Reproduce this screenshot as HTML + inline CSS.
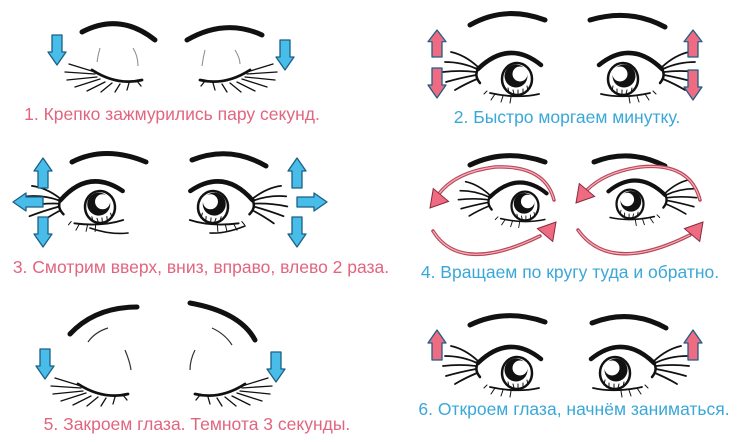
<!DOCTYPE html>
<html><head><meta charset="utf-8"><style>
html,body{margin:0;padding:0;background:#fff;width:750px;height:442px;overflow:hidden}
svg{display:block}
.pk{fill:#e2657f;font-family:"Liberation Sans",sans-serif;font-size:17.5px}
.bl{fill:#3aa7d9;font-family:"Liberation Sans",sans-serif;font-size:17.5px}
</style></head><body>
<svg width="750" height="442" viewBox="0 0 750 442" xmlns="http://www.w3.org/2000/svg">
<defs>
<path id="ad" d="M-5,0 H5 V17 H9 L0,30 L-9,17 H-5 Z" stroke="#1d5f85" stroke-width="1.3" stroke-linejoin="round"/>
<g id="eye" fill="none" stroke="#111" stroke-linecap="round">
 <path d="M-39,-10 Q-8,-40 24,-14" stroke-width="4.5"/>
 <path d="M-39,-10 Q-43,-3 -37,4" stroke-width="2.5"/>
 <path d="M-39,-12 Q-52,-24 -66,-27 M-40,-10 Q-55,-17 -72,-17 M-41,-7 Q-57,-9 -74,-7 M-41,-4 Q-57,-1 -71,3 M-40,0 Q-52,5 -62,11" stroke-width="1.8"/>
 <ellipse cx="0" cy="0" rx="15" ry="16" fill="#fff" stroke-width="2.5"/>
 <path d="M-9,9 L-8,14 M-4,11 L-3,15 M1,11 L1,16 M6,10 L6,15 M10,7 L11,12" stroke-width="1"/>
 <circle cx="-1" cy="-3" r="11.5" fill="#111" stroke="none"/>
 <circle cx="3" cy="-5" r="7.5" fill="#fff" stroke="none"/>
 <path d="M-27,14 Q0,20 22,15" stroke-width="1.8"/>
 <path d="M-22,15 L-26,21 M-14,17 L-16,23 M-6,18 L-7,24 M-30,12 L-33,15" stroke-width="1"/>
</g>
<g id="closed" fill="none" stroke="#111" stroke-linecap="round">
 <path d="M-25,-4 Q0,12 25,6" stroke-width="2.8"/>
 <path d="M-22,-2 L-48,-10 M-22,0 L-52,-2 M-20,3 L-50,6 M-17,5 L-42,13 M-12,8 L-30,17 M-5,9 L-16,18 M3,10 L-2,18 M12,9 L10,16 M20,7 L24,12" stroke-width="1.3"/>
</g>
<path id="rh" d="M0,0 L-10,-17 L10,-17 Z" fill="#ef6b81" stroke="#8a2a3a" stroke-width="1"/>
</defs>

<!-- Panel 1 -->
<path d="M82,32 Q120,12 155,40" stroke="#111" stroke-width="5" fill="none" stroke-linecap="round"/>
<path d="M187,40 Q225,18 262,35" stroke="#111" stroke-width="5" fill="none" stroke-linecap="round"/>
<g fill="none" stroke="#888" stroke-width="1">
<path d="M100,48 Q98,55 97,62"/><path d="M133,48 Q138,56 138,66"/>
<path d="M205,50 Q203,58 202,66"/><path d="M235,50 Q240,58 240,64"/>
</g>
<use href="#closed" transform="translate(117,74)"/>
<use href="#closed" transform="translate(225,74) scale(-1,1)"/>
<use href="#ad" fill="#48bde9" transform="translate(57,35)"/>
<use href="#ad" fill="#48bde9" transform="translate(285,40)"/>
<text class="pk" x="172" y="120" text-anchor="middle">1. Крепко зажмурились пару секунд.</text>

<!-- Panel 2 -->
<path d="M470,25 Q505,5 545,20" stroke="#111" stroke-width="5" fill="none" stroke-linecap="round"/>
<path d="M590,20 Q630,8 665,27" stroke="#111" stroke-width="5" fill="none" stroke-linecap="round"/>
<use href="#eye" transform="translate(517,79)"/>
<use href="#eye" transform="translate(623,79) scale(-1,1)"/>
<use href="#ad" fill="#ef6b81" transform="translate(437,57) scale(1,-0.9)"/>
<use href="#ad" fill="#ef6b81" transform="translate(437,68)"/>
<use href="#ad" fill="#ef6b81" transform="translate(693,57) scale(1,-0.9)"/>
<use href="#ad" fill="#ef6b81" transform="translate(693,70)"/>
<text class="bl" x="567" y="123" text-anchor="middle">2. Быстро моргаем минутку.</text>

<!-- Panel 3 -->
<path d="M72,162 Q105,145 146,162" stroke="#111" stroke-width="5" fill="none" stroke-linecap="round"/>
<path d="M192,160 Q230,145 266,166" stroke="#111" stroke-width="5" fill="none" stroke-linecap="round"/>
<use href="#eye" transform="translate(100,207) rotate(-5)"/>
<use href="#eye" transform="translate(213,207) scale(-1,1) rotate(-5)"/>
<g fill="none" stroke="#111" stroke-linecap="round" stroke-width="1.6">
<path d="M90,228 Q110,235 128,233"/><path d="M245,226 Q225,234 210,233"/>
</g>
<use href="#ad" fill="#48bde9" transform="translate(43,188) scale(1,-1)"/>
<use href="#ad" fill="#48bde9" transform="translate(43,217)"/>
<use href="#ad" fill="#48bde9" transform="translate(43,202) rotate(90)"/>
<use href="#ad" fill="#48bde9" transform="translate(297,188) scale(1,-1)"/>
<use href="#ad" fill="#48bde9" transform="translate(297,217)"/>
<use href="#ad" fill="#48bde9" transform="translate(297,202) rotate(-90)"/>
<text class="pk" x="201" y="273" text-anchor="middle">3. Смотрим вверх, вниз, вправо, влево 2 раза.</text>

<!-- Panel 4 -->
<path d="M470,165 Q505,148 545,162" stroke="#111" stroke-width="5" fill="none" stroke-linecap="round"/>
<path d="M594,162 Q630,148 665,166" stroke="#111" stroke-width="5" fill="none" stroke-linecap="round"/>
<use href="#eye" transform="translate(525,206) scale(0.9)"/>
<use href="#eye" transform="translate(630,204) scale(-0.9,0.9)"/>
<g fill="none" stroke="#b8485a" stroke-width="3.5" stroke-linecap="round">
<path d="M554,200 Q545,165 495,167 Q455,172 438,195"/>
<path d="M433,231 Q460,275 540,236"/>
<path d="M700,200 Q690,162 640,167 Q605,172 587,190"/>
<path d="M578,230 Q610,275 690,235"/>
</g>
<g fill="none" stroke="#f7b0bc" stroke-width="1.2">
<path d="M554,200 Q545,165 495,167 Q455,172 438,195"/>
<path d="M433,231 Q460,275 540,236"/>
<path d="M700,200 Q690,162 640,167 Q605,172 587,190"/>
<path d="M578,230 Q610,275 690,235"/>
</g>
<use href="#rh" transform="translate(430,208) rotate(40)"/>
<use href="#rh" transform="translate(556,222) rotate(-140)"/>
<use href="#rh" transform="translate(576,203) rotate(40)"/>
<use href="#rh" transform="translate(703,222) rotate(-140)"/>
<text class="bl" x="570" y="278" text-anchor="middle">4. Вращаем по кругу туда и обратно.</text>

<!-- Panel 5 -->
<path d="M70,334 Q95,307 137,307" stroke="#111" stroke-width="5" fill="none" stroke-linecap="round"/>
<path d="M190,303 Q240,312 255,340" stroke="#111" stroke-width="5" fill="none" stroke-linecap="round"/>
<g fill="none" stroke="#333" stroke-width="1.2">
<path d="M88,342 Q95,332 108,328"/><path d="M125,350 Q130,362 131,370"/>
<path d="M212,328 Q225,334 232,345"/><path d="M195,350 Q190,360 190,370"/>
</g>
<use href="#closed" transform="translate(103,388)"/>
<use href="#closed" transform="translate(220,388) scale(-1,1)"/>
<use href="#ad" fill="#48bde9" transform="translate(45,349)"/>
<use href="#ad" fill="#48bde9" transform="translate(276,352)"/>
<text class="pk" x="197" y="430" text-anchor="middle">5. Закроем глаза. Темнота 3 секунды.</text>

<!-- Panel 6 -->
<path d="M470,325 Q505,308 545,322" stroke="#111" stroke-width="5" fill="none" stroke-linecap="round"/>
<path d="M592,323 Q630,308 666,328" stroke="#111" stroke-width="5" fill="none" stroke-linecap="round"/>
<use href="#eye" transform="translate(517,373)"/>
<use href="#eye" transform="translate(615,373) scale(-1,1)"/>
<use href="#ad" fill="#ef6b81" transform="translate(437,360) scale(1,-1)"/>
<use href="#ad" fill="#ef6b81" transform="translate(693,360) scale(1,-1)"/>
<text class="bl" x="574" y="415" text-anchor="middle">6. Откроем глаза, начнём заниматься.</text>
</svg>
</body></html>
